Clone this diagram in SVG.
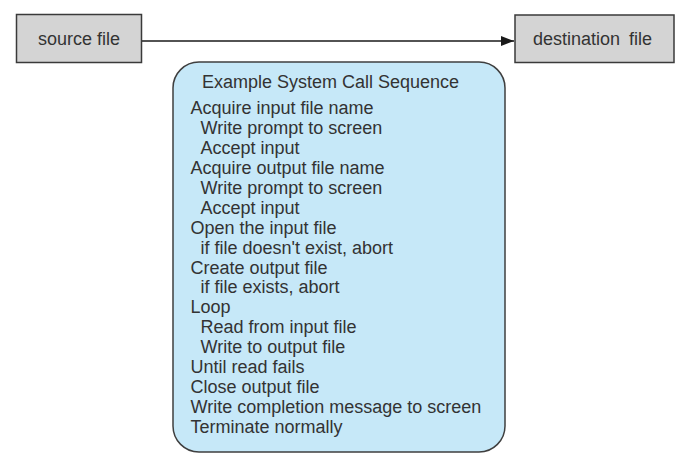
<svg xmlns="http://www.w3.org/2000/svg" width="694" height="466" viewBox="0 0 694 466">
<style>
  .box { fill: #d4d4d4; stroke: #3a3a3a; stroke-width: 1.5; }
  .seq { fill: #c6e8f8; stroke: #3f3f3f; stroke-width: 1.5; }
  .lbl { font-family: "Liberation Sans", Arial, sans-serif; font-size: 18px; fill: #333333; }
  .conn { stroke: #1a1a1a; stroke-width: 1.5; fill: none; }
</style>
<defs>
  <marker id="arrow" markerWidth="14" markerHeight="10" refX="13" refY="5" orient="auto" markerUnits="userSpaceOnUse">
    <path d="M0,0 L13,5 L0,10 Z" fill="#1a1a1a"/>
  </marker>
</defs>
<rect width="694" height="466" fill="#ffffff"/>
<g id="connectors">
  <line class="conn" x1="141.5" y1="41" x2="514" y2="41" marker-end="url(#arrow)"/>
</g>
<g id="source-file">
  <rect class="box" x="16.5" y="14.5" width="125" height="48"/>
  <text class="lbl" x="79" y="44.5" text-anchor="middle">source file</text>
</g>
<g id="destination-file">
  <rect class="box" x="515" y="15" width="159" height="47.5"/>
  <text class="lbl" x="592.5" y="44.5" text-anchor="middle" word-spacing="4">destination file</text>
</g>
<g id="system-call-sequence">
  <rect class="seq" x="173" y="62" width="332" height="390" rx="26" ry="26"/>
  <text class="lbl" x="202" y="88.3">Example System Call Sequence</text>
  <text class="lbl" x="190.5" y="114.3">Acquire input file name</text>
  <text class="lbl" x="200.5" y="134.2">Write prompt to screen</text>
  <text class="lbl" x="200.5" y="154.1">Accept input</text>
  <text class="lbl" x="190.5" y="174">Acquire output file name</text>
  <text class="lbl" x="200.5" y="193.9">Write prompt to screen</text>
  <text class="lbl" x="200.5" y="213.8">Accept input</text>
  <text class="lbl" x="190.5" y="233.7">Open the input file</text>
  <text class="lbl" x="200.5" y="253.6">if file doesn't exist, abort</text>
  <text class="lbl" x="190.5" y="273.5">Create output file</text>
  <text class="lbl" x="200.5" y="293.4">if file exists, abort</text>
  <text class="lbl" x="190.5" y="313.3">Loop</text>
  <text class="lbl" x="200.5" y="333.2">Read from input file</text>
  <text class="lbl" x="200.5" y="353.1">Write to output file</text>
  <text class="lbl" x="190.5" y="373">Until read fails</text>
  <text class="lbl" x="190.5" y="392.9">Close output file</text>
  <text class="lbl" x="190.5" y="412.8">Write completion message to screen</text>
  <text class="lbl" x="190.5" y="432.7">Terminate normally</text>
</g>
</svg>
